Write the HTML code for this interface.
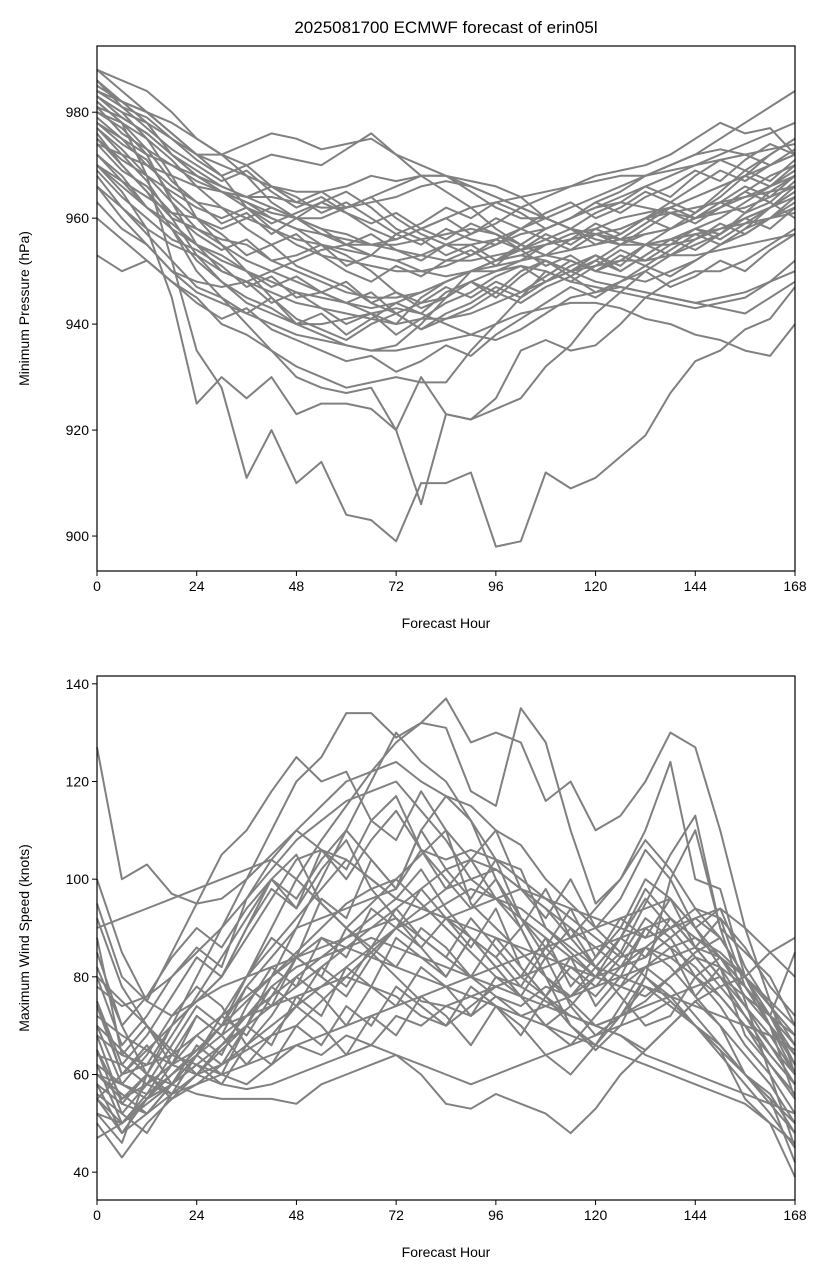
<!DOCTYPE html>
<html><head><meta charset="utf-8"><style>
body{margin:0;background:#fff;}
svg{display:block;font-family:"Liberation Sans","DejaVu Sans",sans-serif;}
</style></head><body>
<svg id="chart" width="830" height="1279" viewBox="0 0 830 1279" xmlns="http://www.w3.org/2000/svg"></svg>
<script>
const hours=[0,6,12,18,24,30,36,42,48,54,60,66,72,78,84,90,96,102,108,114,120,126,132,138,144,150,156,162,168];
const xTicks=[0,24,48,72,96,120,144,168];
const pressureTicks=[900,920,940,960,980];
const windTicks=[40,60,80,100,120,140];
const pressureMembers=[
[988,986,984,980,975,972,970,972,971,970,973,976,972,968,965,962,958,955,958,960,963,965,968,970,972,975,978,981,984],
[985,982,978,972,968,965,962,960,958,955,953,950,946,944,945,948,950,952,955,956,957,958,960,962,964,966,968,972,975],
[980,978,975,968,960,955,950,945,940,938,936,935,936,940,945,950,952,953,955,957,958,960,961,962,964,966,968,970,972],
[975,970,965,958,950,945,940,935,930,928,927,928,920,930,923,922,924,926,932,936,942,946,950,953,955,957,960,962,965],
[982,978,968,952,935,928,911,920,910,914,904,903,899,910,910,912,898,899,912,909,911,915,919,927,933,935,939,941,947],
[970,965,958,945,925,930,926,930,923,925,925,924,920,906,923,922,926,935,937,935,936,940,945,948,950,950,952,955,958],
[953,950,952,948,945,940,938,935,932,930,928,929,930,929,929,935,940,945,948,950,952,955,957,958,960,962,965,968,970],
[983,980,978,975,972,970,968,966,965,965,966,968,967,968,968,965,962,960,960,958,957,956,955,955,956,958,960,962,964],
[978,975,972,970,968,966,964,962,960,958,957,955,955,956,957,958,957,955,953,952,950,949,948,950,952,955,958,962,965],
[972,968,962,958,955,952,950,948,946,945,944,943,944,946,948,950,950,951,950,948,947,946,945,944,943,944,945,948,950],
[986,982,980,978,975,972,968,963,960,957,955,953,952,953,955,955,956,958,960,962,964,966,968,970,972,973,972,970,972],
[976,970,965,960,958,956,955,952,950,948,946,945,945,946,948,950,952,953,952,950,948,947,946,945,944,943,942,945,948],
[968,962,958,955,953,950,948,946,944,943,942,941,940,941,941,942,944,946,948,950,951,952,952,953,953,954,955,956,957],
[981,979,976,972,968,965,963,960,958,957,956,955,956,958,960,962,963,964,965,966,967,968,968,969,970,971,972,973,974],
[979,975,970,966,963,962,960,958,956,955,954,953,952,950,949,950,952,955,958,960,962,963,962,961,960,961,962,964,966],
[974,972,970,968,966,965,964,964,963,962,962,963,964,966,967,966,964,962,960,958,957,956,955,956,957,958,959,960,961],
[970,966,962,958,952,948,944,942,940,940,941,942,943,942,940,938,937,939,942,945,946,947,946,945,944,945,946,948,952],
[984,982,980,976,972,972,974,976,975,973,974,975,972,970,968,967,966,964,960,958,956,955,955,956,958,960,963,966,969],
[963,958,955,950,946,944,942,940,938,937,936,935,935,936,937,938,940,942,943,944,944,943,941,940,938,937,935,934,940],
[988,984,980,976,972,968,962,958,955,953,952,951,950,950,951,953,955,957,958,960,962,964,966,968,970,972,974,976,978],
[977,973,968,963,958,955,952,950,948,946,944,942,940,945,948,950,951,952,953,954,955,956,957,958,960,962,964,966,968],
[966,960,955,950,948,947,948,950,952,954,955,955,954,953,952,952,953,954,955,956,957,958,960,961,962,963,964,965,966],
[982,978,973,970,967,965,963,961,960,960,962,964,966,968,968,966,964,962,964,966,968,969,970,972,975,978,976,977,972],
[980,977,972,963,955,950,948,944,946,943,940,942,938,941,944,946,949,951,948,951,953,950,953,956,958,957,961,963,960],
[974,969,966,961,957,954,956,952,953,955,951,953,957,955,958,956,955,958,956,954,957,955,958,961,959,962,965,963,967],
[986,981,977,973,970,967,969,965,962,964,961,959,961,958,956,959,957,954,956,958,955,957,960,958,961,964,968,966,970],
[969,964,960,956,954,951,947,949,945,946,944,946,942,944,947,945,948,946,949,952,950,953,951,954,957,955,958,960,963],
[983,980,975,971,966,962,958,955,957,953,950,948,951,949,952,954,951,955,953,956,959,957,960,963,961,965,969,967,971],
[978,974,971,964,960,957,953,955,951,949,947,944,946,943,945,948,946,950,952,949,946,948,950,947,949,952,950,954,957],
[984,981,979,975,971,968,970,966,964,961,963,960,957,959,962,960,963,961,958,960,963,961,964,966,969,967,971,974,972],
[960,956,952,948,944,941,943,939,937,935,933,934,931,933,936,934,938,941,944,947,945,948,951,949,952,955,957,960,962],
[972,967,962,959,955,953,950,947,949,946,948,944,942,939,941,943,946,944,947,949,952,950,953,956,954,957,960,958,962],
[981,976,973,967,963,959,961,957,960,958,955,957,954,952,955,957,960,958,961,963,960,962,965,963,966,969,967,970,973],
[975,971,968,965,962,960,962,959,961,963,965,962,958,956,953,955,952,954,957,955,958,956,959,962,960,963,966,964,968],
[966,962,957,952,947,945,942,945,941,939,937,940,942,939,942,944,947,945,950,948,951,954,952,955,958,956,959,962,966],
[983,979,976,972,969,966,964,966,963,965,962,964,960,957,955,953,956,954,951,953,950,952,955,953,956,959,957,960,964],
[977,972,967,960,953,948,945,943,940,942,938,941,944,942,946,948,945,949,952,950,953,951,955,958,960,963,961,965,968],
[970,967,964,961,960,958,960,962,960,963,961,958,956,958,960,957,959,962,960,958,961,963,966,964,968,971,969,972,975]
];
const windMembers=[
[127,100,103,97,95,96,100,105,110,115,120,122,124,120,117,115,110,107,100,95,90,85,80,75,70,65,60,55,50],
[75,60,62,70,80,90,100,110,120,125,134,134,129,132,137,128,130,128,116,120,110,113,120,130,127,110,90,75,60],
[60,55,58,62,65,70,80,90,100,108,115,122,128,132,131,118,115,135,128,110,95,100,110,124,100,98,80,70,55],
[50,43,50,55,60,65,70,80,90,100,110,120,130,124,120,112,100,90,80,70,65,70,80,100,110,90,75,60,45],
[95,80,75,85,95,105,110,118,125,120,122,112,117,106,104,106,104,102,90,85,80,85,95,105,113,90,85,80,70],
[65,55,60,70,75,80,90,100,105,95,90,95,100,105,110,95,90,85,80,75,70,72,75,80,85,88,80,70,60],
[55,50,55,60,65,70,75,80,85,90,95,98,100,95,90,85,80,78,75,72,70,68,65,70,75,78,80,85,88],
[70,65,60,58,56,55,55,55,54,58,60,62,64,60,54,53,56,54,52,48,53,60,65,70,75,70,60,55,42],
[80,75,70,65,60,58,57,58,60,62,64,66,64,62,60,58,60,62,64,66,68,70,72,75,70,65,55,50,39],
[90,92,94,96,98,100,102,104,100,95,90,85,80,75,74,76,78,80,82,84,86,88,90,92,88,85,80,75,70],
[60,58,56,60,65,70,72,74,76,78,80,78,76,72,70,74,78,80,76,72,70,68,64,62,60,58,56,54,52],
[72,68,65,62,60,62,65,68,70,75,80,85,90,92,95,98,96,94,90,86,82,80,78,76,74,72,70,68,65],
[85,70,60,55,58,62,66,70,74,78,82,86,90,94,98,100,102,98,94,90,86,82,84,88,92,94,90,85,80],
[55,60,65,70,75,78,80,82,84,86,88,90,92,88,84,80,76,72,70,68,66,64,62,60,58,56,54,50,46],
[62,58,55,58,64,70,78,84,90,92,94,96,98,110,117,112,104,100,96,92,88,84,86,90,94,92,86,78,72],
[68,64,62,64,68,72,76,80,84,88,86,84,82,80,78,76,74,72,74,76,78,80,82,84,86,84,80,74,68],
[58,54,52,56,60,66,72,78,82,84,86,88,86,84,82,80,82,84,86,88,90,92,94,96,90,82,74,66,58],
[100,85,75,72,75,80,88,96,104,106,104,100,96,94,92,94,96,98,96,94,92,90,88,90,92,88,80,72,64],
[52,50,54,58,62,66,70,74,78,82,86,90,94,98,102,104,102,98,94,88,82,76,70,72,80,84,78,70,62],
[64,62,58,56,58,60,62,64,66,68,70,72,74,76,78,80,78,76,74,72,70,72,74,76,78,80,76,72,68],
[47,50,55,60,64,68,72,76,80,84,88,92,96,94,92,90,88,86,84,82,80,78,82,86,88,84,78,72,66],
[78,74,76,80,85,90,96,102,108,112,116,118,120,114,108,100,96,92,88,84,80,78,76,80,84,82,78,72,85],
[65,52,58,66,74,70,80,88,84,96,92,104,98,110,102,96,104,92,86,94,84,90,100,96,86,92,78,70,62],
[58,48,55,62,68,64,74,82,78,88,84,94,90,98,92,86,94,82,76,84,74,80,90,86,76,82,68,62,55],
[75,62,68,76,84,80,90,98,94,106,102,112,108,118,110,104,110,98,92,100,90,96,106,100,90,94,82,74,66],
[88,64,70,62,72,68,78,74,84,80,90,86,94,88,84,92,86,80,88,78,84,92,88,96,90,84,76,70,64],
[52,46,60,56,64,60,70,66,76,72,82,78,88,84,80,88,82,76,84,74,80,88,84,92,86,80,72,66,60],
[70,58,64,72,78,74,66,72,80,76,70,78,74,82,78,72,80,76,70,66,72,78,86,82,76,70,64,58,50],
[62,50,56,64,72,68,62,68,74,70,64,72,68,76,72,66,74,70,64,60,66,72,80,76,70,64,58,52,45],
[80,66,72,80,86,82,96,104,110,106,100,108,114,106,98,104,96,90,98,88,94,100,108,102,94,88,80,72,62],
[56,52,48,56,64,72,80,86,92,98,104,100,96,102,94,88,84,90,80,76,82,88,96,90,84,78,72,64,58],
[92,78,70,64,62,60,58,62,66,64,68,66,72,70,74,72,76,74,78,76,80,82,86,84,80,76,70,62,56],
[68,54,60,68,76,84,92,100,94,102,108,98,92,86,80,88,82,76,70,74,68,72,78,74,70,66,60,56,48],
[60,56,52,58,66,62,70,78,74,82,78,86,82,90,86,80,88,82,76,82,78,84,92,88,80,74,66,60,52],
[74,60,66,58,64,72,68,76,84,80,76,84,90,86,92,88,84,78,86,80,76,82,90,86,82,76,70,64,58],
[55,48,52,58,62,58,66,62,70,66,74,70,78,74,70,78,74,68,76,70,66,74,82,78,72,66,60,54,48],
[82,70,76,84,90,86,94,100,96,104,110,104,98,106,100,94,100,92,84,90,82,88,98,92,86,80,74,68,60]
];

const NS="http://www.w3.org/2000/svg";
const svg=document.getElementById('chart');
function mk(tag,attrs,parent){const e=document.createElementNS(NS,tag);for(const k in attrs)e.setAttribute(k,attrs[k]);(parent||svg).appendChild(e);return e;}

function panel(cfg){
  const {top,bottom,yMin,yMax,yTicks,members,ylabel,name}=cfg;
  const L=97,R=795;
  const x=h=>L+(h-0)/(168-0)*(R-L);
  const y=v=>bottom-(v-yMin)/(yMax-yMin)*(bottom-top);
  const g=mk('g',{});
  
  
  members.forEach((m,i)=>{
    const d=m.map((v,j)=>(j?'L':'M')+x(hours[j]).toFixed(1)+' '+y(v).toFixed(1)).join(' ');
    const p=mk('path',{d:d,fill:'none',stroke:'#808080','stroke-width':2,'stroke-linejoin':'round'},g);
    
    
  });
  const box=mk('rect',{x:L,y:top,width:R-L,height:bottom-top,fill:'none',stroke:'#000','stroke-width':1.2},g);
  
  
  xTicks.forEach(t=>{
    mk('line',{x1:x(t),x2:x(t),y1:bottom,y2:bottom+5,stroke:'#000','stroke-width':1},g);
    const tx=mk('text',{x:x(t),y:bottom+20,'text-anchor':'middle','font-size':14},g);
    tx.textContent=t;
    
    
  });
  yTicks.forEach(t=>{
    mk('line',{x1:L-5,x2:L,y1:y(t),y2:y(t),stroke:'#000','stroke-width':1},g);
    const tx=mk('text',{x:L-8,y:y(t)+5,'text-anchor':'end','font-size':14},g);
    tx.textContent=t;
    
    
  });
  const xl=mk('text',{x:(L+R)/2,y:bottom+57,'text-anchor':'middle','font-size':14},g);
  xl.textContent='Forecast Hour';
  
  
  const cy=(top+bottom)/2;
  const yl=mk('text',{x:29,y:cy,'text-anchor':'middle','font-size':14,transform:'rotate(-90 29 '+cy+')'},g);
  yl.textContent=ylabel;
  
  
}

const title=mk('text',{x:446,y:33,'text-anchor':'middle','font-size':17});
title.textContent='2025081700 ECMWF forecast of erin05l';



panel({top:46,bottom:571,yMin:893.4,yMax:992.5,yTicks:pressureTicks,members:pressureMembers,ylabel:'Minimum Pressure (hPa)',name:'pressure-panel'});
panel({top:676,bottom:1200,yMin:34.3,yMax:141.6,yTicks:windTicks,members:windMembers,ylabel:'Maximum Wind Speed (knots)',name:'wind-panel'});
</script>
</body></html>
